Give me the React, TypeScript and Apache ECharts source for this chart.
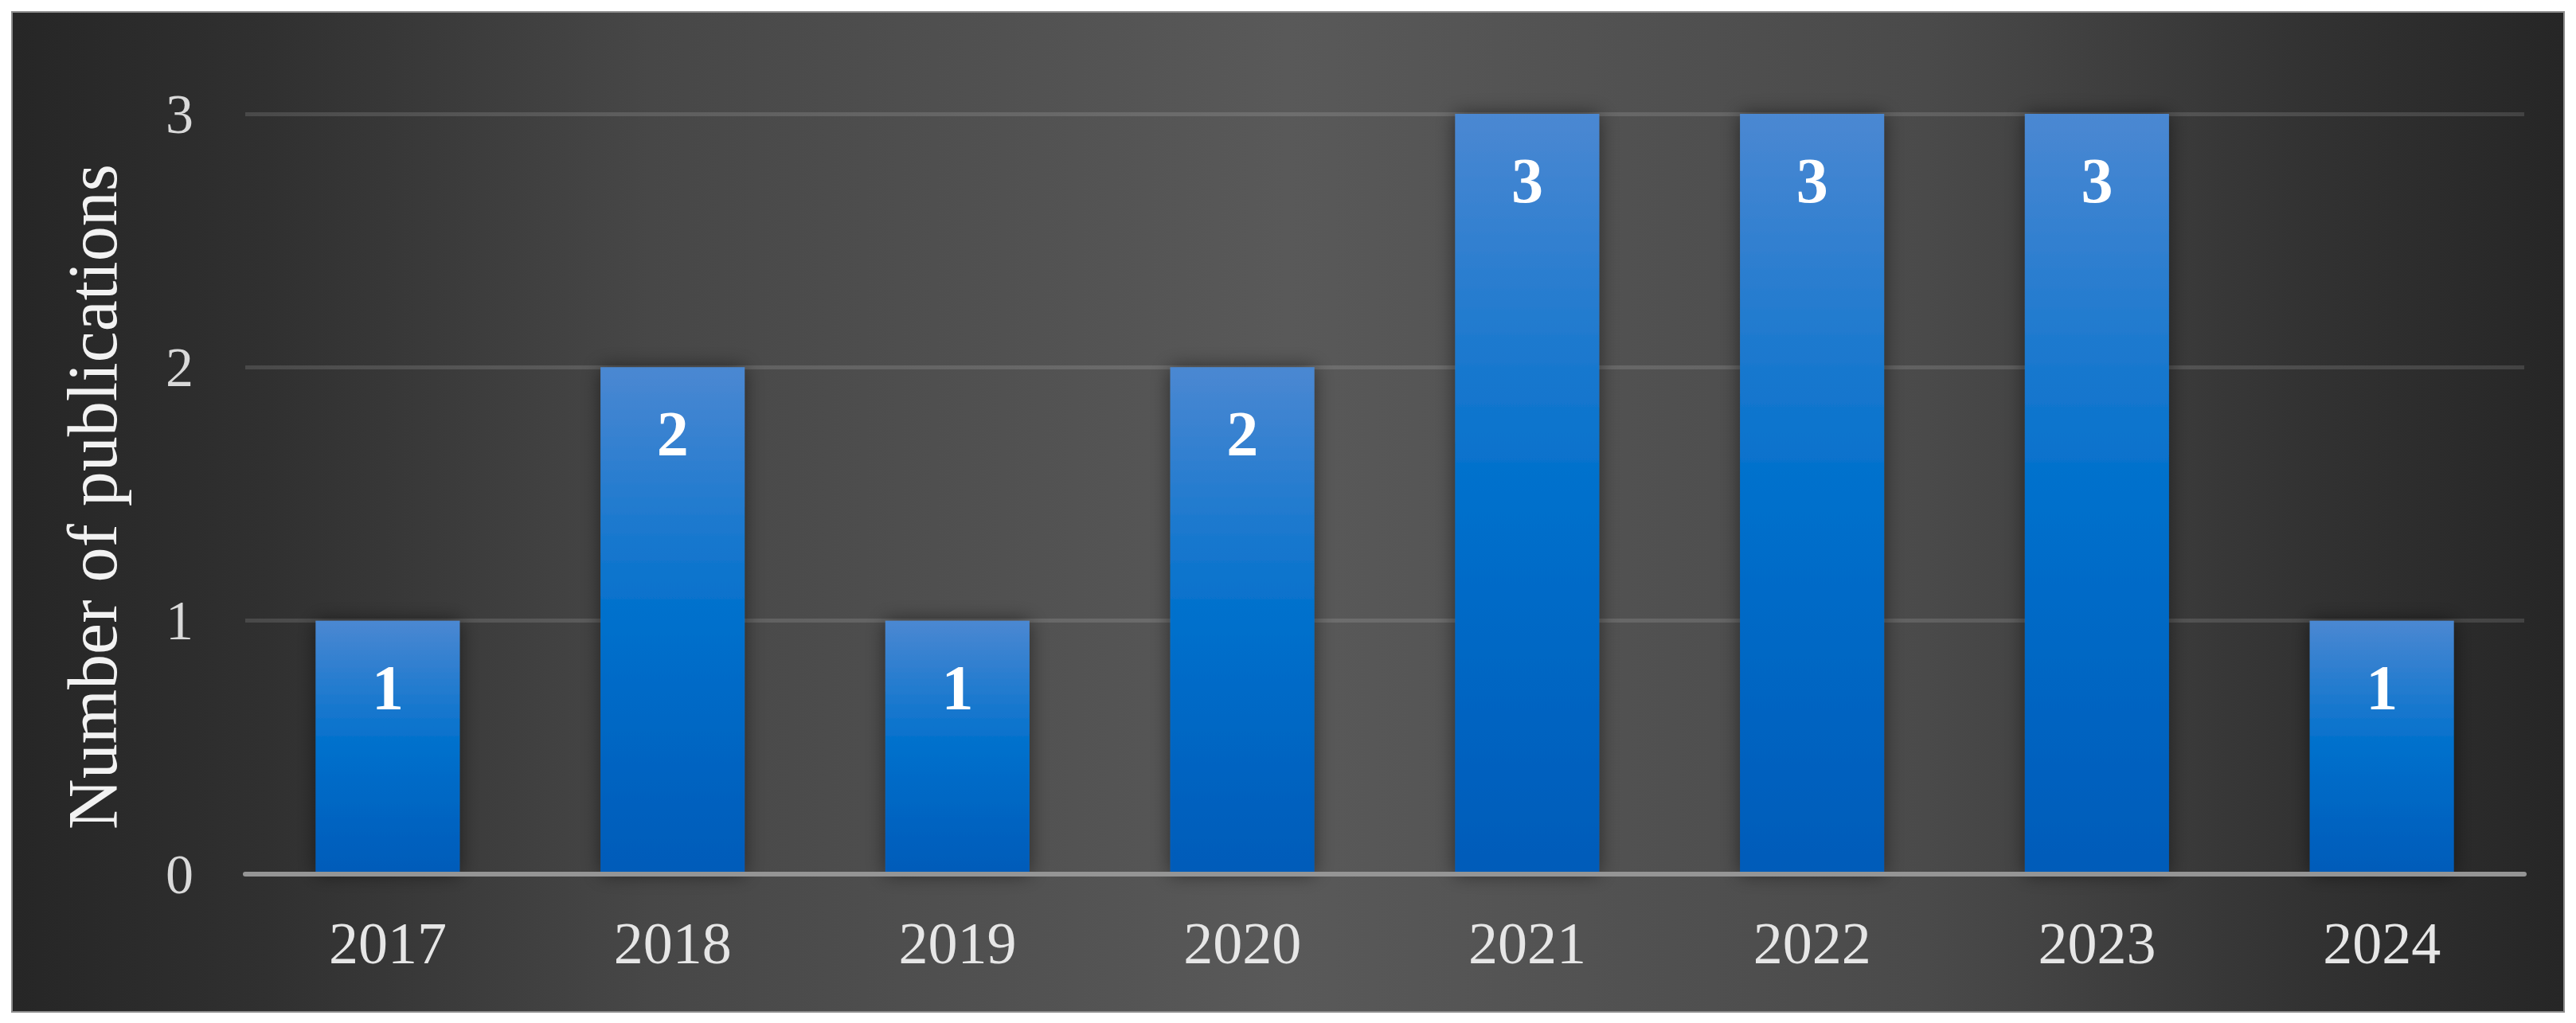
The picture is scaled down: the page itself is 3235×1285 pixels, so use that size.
import React, { useEffect, useRef } from "react";
import * as echarts from "echarts";

const categories = ["2017", "2018", "2019", "2020", "2021", "2022", "2023", "2024"];
const publications = [1, 2, 1, 2, 3, 3, 3, 1];
const yTicks = { min: 0, max: 3, interval: 1 };
const yAxisTitle = "Number of publications";

const FONT = "'Liberation Serif', 'Times New Roman', serif";

export default function App() {
  const ref = useRef<HTMLDivElement>(null);
  useEffect(() => {
    if (!ref.current) return;
    const chart = echarts.init(ref.current, undefined, { renderer: "svg" });
    chart.setOption({
      animation: false,
      backgroundColor: "#ffffff",
      graphic: {
        elements: [
          {
            type: "rect",
            z: -10,
            silent: true,
            shape: { x: 15, y: 15, width: 3205, height: 1256 },
            style: {
              fill: new echarts.graphic.LinearGradient(0, 0, 1, 0, [
                { offset: 0, color: "#262626" },
                { offset: 0.1, color: "#303030" },
                { offset: 0.25, color: "#474747" },
                { offset: 0.5, color: "#595959" },
                { offset: 0.75, color: "#4a4a4a" },
                { offset: 0.9, color: "#323232" },
                { offset: 1, color: "#262626" },
              ]),
              stroke: "#8c8c8c",
              lineWidth: 2,
            },
          },
          {
            type: "text",
            z: 10,
            x: 116,
            y: 624,
            rotation: Math.PI / 2,
            style: {
              text: yAxisTitle,
              fontSize: 88,
              fontFamily: FONT,
              fill: "#f2f2f2",
              textAlign: "center",
              textVerticalAlign: "middle",
            },
          },
        ],
      },
      grid: { left: 308, right: 65, top: 143, bottom: 187, containLabel: false },
      xAxis: {
        type: "category",
        data: categories,
        axisLine: { show: true, lineStyle: { color: "#959595", width: 6 } },
        axisTick: { show: false },
        axisLabel: { fontSize: 74, fontFamily: FONT, color: "#e6e6e6", margin: 50 },
        z: 3,
      },
      yAxis: {
        type: "value",
        min: yTicks.min,
        max: yTicks.max,
        interval: yTicks.interval,
        axisLine: { show: false },
        axisTick: { show: false },
        axisLabel: { fontSize: 70, fontFamily: FONT, color: "#d9d9d9", margin: 65 },
        splitLine: { show: true, lineStyle: { color: "rgba(255,255,255,0.13)", width: 5 } },
      },
      series: [
        {
          type: "bar",
          data: publications,
          barWidth: "50.6%",
          itemStyle: {
            color: new echarts.graphic.LinearGradient(0, 0, 0, 1, [
              { offset: 0, color: "#4b88d2" },
              { offset: 0.5, color: "#0070cc" },
              { offset: 1, color: "#005bb9" },
            ]),
            shadowBlur: 25,
            shadowColor: "rgba(0,0,0,0.5)",
          },
          label: {
            show: true,
            position: "insideTop",
            distance: 44,
            fontSize: 80,
            fontWeight: "bold",
            fontFamily: FONT,
            color: "#ffffff",
          },
        },
      ],
    });
    return () => chart.dispose();
  }, []);
  return (
    <div
      ref={ref}
      style={{ position: "fixed", left: 0, top: 0, width: 3235, height: 1285, background: "#fff" }}
    />
  );
}
